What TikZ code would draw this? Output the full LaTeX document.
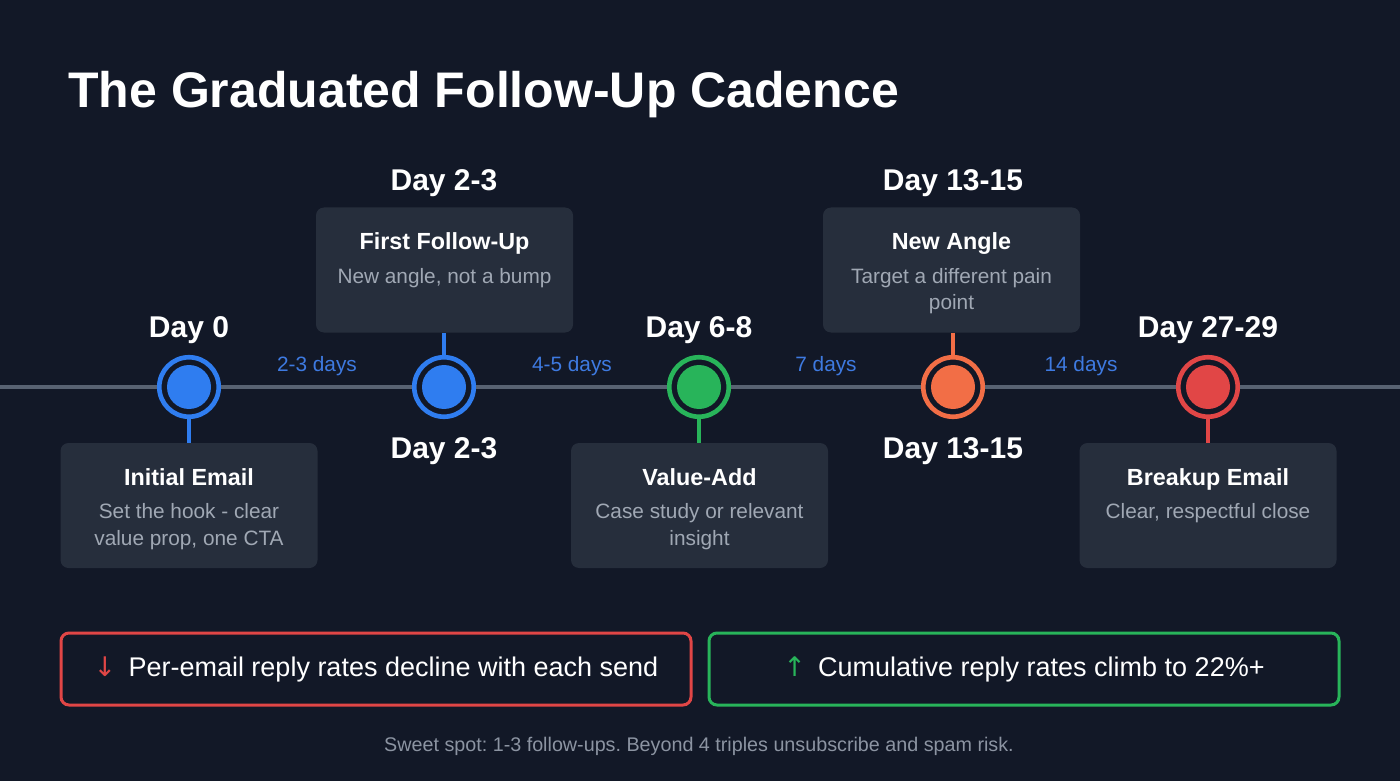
\documentclass[tikz,border=0pt]{standalone}
\usepackage{fontspec}
\setmainfont{Liberation Sans}
\newfontfamily\symfont{DejaVu Sans}
\frenchspacing
\definecolor{bg}{RGB}{18,24,39}
\definecolor{cardfill}{RGB}{38,46,60}
\definecolor{tlgray}{RGB}{88,98,114}
\definecolor{cblue}{RGB}{47,125,240}
\definecolor{cgreen}{RGB}{40,180,90}
\definecolor{corange}{RGB}{242,110,70}
\definecolor{cred}{RGB}{225,70,70}
\definecolor{gaptext}{RGB}{62,122,225}
\definecolor{desctext}{RGB}{160,168,180}
\definecolor{foottext}{RGB}{140,148,162}
\begin{document}
\begin{tikzpicture}[x=0.75pt,y=-0.75pt,
  card/.style={rounded corners=6pt, fill=cardfill, minimum width=192.75pt, minimum height=93.75pt, inner sep=0pt},
  ring/.style={circle, draw=#1, line width=3.5pt, fill=bg, minimum size=44.6pt, inner sep=0pt},
  dot/.style={circle, fill=#1, minimum size=33pt, inner sep=0pt},
  stem/.style={draw=#1, line width=3pt},
  tline/.style={draw=tlgray, line width=3pt},
  daylbl/.style={font=\fontsize{22.5}{26}\selectfont\bfseries, text=white, anchor=base, inner sep=0pt},
  ctitle/.style={font=\fontsize{17.5}{20}\selectfont\bfseries, text=white, anchor=base, inner sep=0pt},
  cdesc/.style={font=\fontsize{15.6}{19}\selectfont, text=desctext, anchor=base, inner sep=0pt},
  gaplbl/.style={font=\fontsize{15.6}{19}\selectfont, text=gaptext, anchor=base, inner sep=0pt},
  sumbox/.style={draw=#1, line width=2.25pt, rounded corners=6pt, fill=bg, minimum width=472.5pt, minimum height=54pt, inner sep=0pt, text=white, font=\fontsize{20.25}{24}\selectfont}
]
\fill[bg] (0,0) rectangle (1400,781);
\useasboundingbox (0,0) rectangle (1400,781);

% title
\node[anchor=base west, inner sep=0pt, text=white, font=\fontsize{37.5}{42}\selectfont\bfseries] (title) at (68,108) {The Graduated Follow-Up Cadence};

% timeline ends
\coordinate (tl) at (0,387);
\coordinate (tr) at (1400,387);

% rings
\node[ring=cblue] (r1) at (189,387) {};
\node[ring=cblue] (r2) at (444,387) {};
\node[ring=cgreen] (r3) at (699,387) {};
\node[ring=corange] (r4) at (953,387) {};
\node[ring=cred] (r5) at (1208,387) {};
\node[dot=cblue] (d1) at (r1) {};
\node[dot=cblue] (d2) at (r2) {};
\node[dot=cgreen] (d3) at (r3) {};
\node[dot=corange] (d4) at (r4) {};
\node[dot=cred] (d5) at (r5) {};

\draw[tline] (tl) -- (r1);
\draw[tline] (r1) -- (r2);
\draw[tline] (r2) -- (r3);
\draw[tline] (r3) -- (r4);
\draw[tline] (r4) -- (r5);
\draw[tline] (r5) -- (tr);

% cards
\node[card] (c1) at (189,505.5) {};
\node[card] (c2) at (444.5,270) {};
\node[card] (c3) at (699.5,505.5) {};
\node[card] (c4) at (951.5,270) {};
\node[card] (c5) at (1208,505.5) {};

\draw[stem=cblue] (r1.south) -- (r1.south |- c1.north);
\draw[stem=cblue] (r2.north |- c2.south) -- (r2.north);
\draw[stem=cgreen] (r3.south) -- (r3.south |- c3.north);
\draw[stem=corange] (r4.north |- c4.south) -- (r4.north);
\draw[stem=cred] (r5.south) -- (r5.south |- c5.north);

% card texts
\node[ctitle] (t1) at (189,485) {Initial Email};
\node[cdesc] (t1a) at (189,518) {Set the hook - clear};
\node[cdesc] (t1b) at (189,545) {value prop, one CTA};

\node[ctitle] (t2) at (444.5,249) {First Follow-Up};
\node[cdesc] (t2a) at (444.5,283) {New angle, not a bump};

\node[ctitle] (t3) at (699.5,485) {Value-Add};
\node[cdesc] (t3a) at (699.5,518) {Case study or relevant};
\node[cdesc] (t3b) at (699.5,545) {insight};

\node[ctitle] (t4) at (951.5,249) {New Angle};
\node[cdesc] (t4a) at (951.5,283) {Target a different pain};
\node[cdesc] (t4b) at (951.5,309) {point};

\node[ctitle] (t5) at (1208,485) {Breakup Email};
\node[cdesc] (t5a) at (1208,518) {Clear, respectful close};

% day labels
\node[daylbl] (l1) at (189,337) {Day 0};
\node[daylbl] (l2) at (444,191) {Day 2-3};
\node[daylbl] (l2b) at (444,458) {Day 2-3};
\node[daylbl] (l3) at (699,337) {Day 6-8};
\node[daylbl] (l4) at (953,191) {Day 13-15};
\node[daylbl] (l4b) at (953,458) {Day 13-15};
\node[daylbl] (l5) at (1208,337) {Day 27-29};

% gap labels
\node[gaplbl] (g1) at (317,371) {2-3 days};
\node[gaplbl] (g2) at (572,371) {4-5 days};
\node[gaplbl] (g3) at (826,371) {7 days};
\node[gaplbl] (g4) at (1081,371) {14 days};

% summary boxes
\node[sumbox=cred] (down) at (376,669) {{\symfont\color{cred}↓}\hspace{0.45em}Per-email reply rates decline with each send};
\node[sumbox=cgreen] (up) at (1024,669) {{\symfont\color{cgreen}↑}\hspace{0.45em}Cumulative reply rates climb to 22\%+};

% footer
\node[anchor=base, inner sep=0pt, text=foottext, font=\fontsize{14.8}{17}\selectfont] (foot) at (699,751) {Sweet spot: 1-3 follow-ups. Beyond 4 triples unsubscribe and spam risk.};
\end{tikzpicture}
\end{document}
